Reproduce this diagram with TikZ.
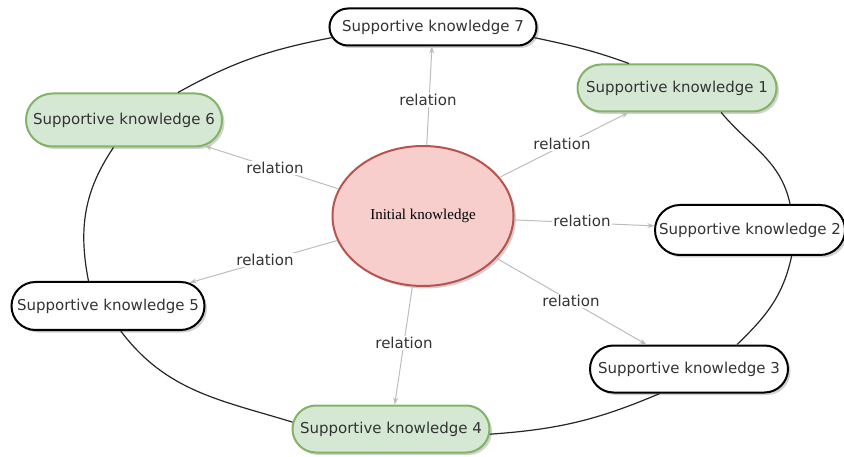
\documentclass[tikz,border=0pt]{standalone}
\usepackage{fontspec}
\setmainfont{DejaVu Sans}
\newfontfamily\serifnode{Liberation Serif}
\usetikzlibrary{shapes.misc,shapes.geometric,shadows,arrows.meta}
\definecolor{gfill}{HTML}{D5E8D4}
\definecolor{gline}{HTML}{82B366}
\definecolor{rfill}{HTML}{F8CECC}
\definecolor{rline}{HTML}{B85450}
\definecolor{relgray}{HTML}{BDBDBD}
\definecolor{txt}{HTML}{333333}
\tikzset{
  kbase/.style={rounded rectangle, inner sep=0pt, minimum height=47pt,
    font=\fontsize{15}{18}\selectfont, text=txt,
    drop shadow={shadow xshift=2.5pt, shadow yshift=-2.5pt, opacity=0.35}},
  kwhite/.style={kbase, draw=black, fill=white, line width=2pt},
  kgreen/.style={kbase, draw=gline, fill=gfill, line width=2pt},
  initnode/.style={ellipse, draw=rline, fill=rfill, line width=2pt, inner sep=0pt,
    minimum width=181pt, minimum height=140pt,
    font=\serifnode\fontsize{15}{18}\selectfont, text=black,
    drop shadow={shadow xshift=2.5pt, shadow yshift=-2.5pt, opacity=0.35}},
  rel/.style={draw=relgray, line width=1pt, -{Stealth[length=7pt,width=5pt]}},
  rellabel/.style={fill=white, inner sep=1pt, text=txt, font=\fontsize{15}{18}\selectfont},
  ring/.style={draw=black!85, line width=1.2pt}
}
\begin{document}
\begin{tikzpicture}[x=1pt,y=-1pt]
\useasboundingbox[fill=white] (0,0) rectangle (844,457);

% nodes
\node[initnode] (init) at (423,216) {Initial knowledge};
\node[kwhite, minimum width=207pt, minimum height=37pt] (n7) at (433,27) {Supportive knowledge 7};
\node[kgreen, minimum width=199pt] (n1) at (677,88) {Supportive knowledge 1};
\node[kgreen, minimum width=196pt, minimum height=53pt] (n6) at (124,120) {Supportive knowledge 6};
\node[kwhite, minimum width=190pt, minimum height=50pt] (n2) at (750,230) {Supportive knowledge 2};
\node[kwhite, minimum width=193pt, minimum height=48pt] (n5) at (108,306) {Supportive knowledge 5};
\node[kwhite, minimum width=198pt] (n3) at (689,369) {Supportive knowledge 3};
\node[kgreen, minimum width=197pt] (n4) at (391,429) {Supportive knowledge 4};

% outer ring
\path[ring] (n7.186) to[out=191, in=29] (n6.27);
\path[ring] (n6.249) to[out=236, in=101] (n5.128);
\path[ring] (n5.297) to[out=307, in=163] (n4.176);
\path[ring] (n4.357) to[out=4, in=203] (n3.220);
\path[ring] (n3.27) to[out=44, in=258] (n2.328);
\path[ring] (n2.33) to[out=102, in=310] (n1.331);
\path[ring] (n1.153) to[out=160, in=348] (n7.354);

% relations
\draw[rel] (init) -- (n7);
\draw[rel] (init) -- (n1);
\draw[rel] (init) -- (n6);
\draw[rel] (init) -- (n2);
\draw[rel] (init) -- (n5);
\draw[rel] (init) -- (n3);
\draw[rel] (init) -- (n4);

\node[rellabel] (l7) at (428,100) {relation};
\node[rellabel] (l1) at (562,144) {relation};
\node[rellabel] (l6) at (275,168) {relation};
\node[rellabel] (l2) at (582,221) {relation};
\node[rellabel] (l5) at (265,260) {relation};
\node[rellabel] (l3) at (571,301) {relation};
\node[rellabel] (l4) at (404,343) {relation};
\end{tikzpicture}
\end{document}
